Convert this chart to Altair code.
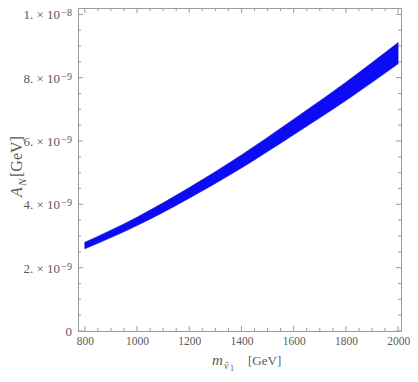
import altair as alt
import pandas as pd

# band data (A_N in units of 1e-9 GeV)
m_vals = [800, 1000, 1200, 1400, 1600, 1800, 2000]
upper_e9 = [2.80, 3.595, 4.53, 5.56, 6.69, 7.855, 9.107]
lower_e9 = [2.594, 3.33, 4.196, 5.149, 6.198, 7.276, 8.436]

x_major = [800, 1000, 1200, 1400, 1600, 1800, 2000]
x_minor = [v for v in range(800, 2001, 50) if v % 200 != 0]
y_major_e9 = [0, 2, 4, 6, 8, 10]
y_minor_e9 = [v / 2 for v in range(0, 21) if v % 4 != 0]
y_label_base = ["0", "2. × 10", "4. × 10", "6. × 10", "8. × 10", "1. × 10"]
y_label_exp = ["", "−9", "−9", "−9", "−9", "−8"]

W, H = 323, 323
FONT = "Liberation Serif"
GREY = "#9a9a9a"
TXT = "#5a5a5a"

band = pd.DataFrame({
    "m": m_vals,
    "hi": [v * 1e-9 for v in upper_e9],
    "lo": [v * 1e-9 for v in lower_e9],
})

xs = alt.Scale(domain=[774, 2011], nice=False, zero=False)
ys = alt.Scale(domain=[0, 1.02e-8], nice=False, zero=False)

xa = alt.Axis(values=x_major, ticks=False, domain=False, grid=False, title=None,
              format="d", labelFont=FONT, labelFontSize=11.5, labelColor=TXT,
              labelPadding=4)

area = alt.Chart(band).mark_area(
    interpolate="monotone", color="#0b0bf5", stroke="#1515c8", strokeWidth=0.6
).encode(
    x=alt.X("m:Q", scale=xs, axis=xa),
    y=alt.Y("hi:Q", scale=ys, axis=None),
    y2="lo:Q",
)

def xticks(vals, length):
    d = pd.DataFrame({"m": vals})
    bot = alt.Chart(d).mark_rule(color=GREY, strokeWidth=1).encode(
        x=alt.X("m:Q", scale=xs, axis=xa), y=alt.value(H), y2=alt.value(H - length))
    top = alt.Chart(d).mark_rule(color=GREY, strokeWidth=1).encode(
        x=alt.X("m:Q", scale=xs, axis=xa), y=alt.value(0), y2=alt.value(length))
    return [bot, top]

def yticks(vals, length):
    d = pd.DataFrame({"hi": [v * 1e-9 for v in vals]})
    lef = alt.Chart(d).mark_rule(color=GREY, strokeWidth=1).encode(
        y=alt.Y("hi:Q", scale=ys, axis=None), x=alt.value(0), x2=alt.value(length))
    rig = alt.Chart(d).mark_rule(color=GREY, strokeWidth=1).encode(
        y=alt.Y("hi:Q", scale=ys, axis=None), x=alt.value(W), x2=alt.value(W - length))
    return [lef, rig]

# y tick labels as text (base + superscript exponent)
ylab = pd.DataFrame({
    "hi": [v * 1e-9 for v in y_major_e9],
    "base": y_label_base,
    "exp": y_label_exp,
})
ylab_zero = ylab[ylab["exp"] == ""]
ylab_sci = ylab[ylab["exp"] != ""]

ylab_layers = [
    alt.Chart(ylab_zero).mark_text(align="right", baseline="middle", font=FONT,
                                   fontSize=13, color=TXT, dy=1).encode(
        y=alt.Y("hi:Q", scale=ys, axis=None), x=alt.value(-6), text="base:N"),
    alt.Chart(ylab_sci).mark_text(align="right", baseline="middle", font=FONT,
                                  fontSize=13, color=TXT, dy=1).encode(
        y=alt.Y("hi:Q", scale=ys, axis=None), x=alt.value(-18), text="base:N"),
    alt.Chart(ylab_sci).mark_text(align="right", baseline="alphabetic", font=FONT,
                                  fontSize=10, color=TXT, dy=2).encode(
        y=alt.Y("hi:Q", scale=ys, axis=None), x=alt.value(-6), text="exp:N"),
]

def txt(s, x, y, size, italic=False, angle=0):
    kw = dict(align="left", baseline="alphabetic", font=FONT, fontSize=size,
              color=TXT, text=s)
    if italic:
        kw["fontStyle"] = "italic"
    if angle:
        kw["angle"] = angle
    return alt.Chart(pd.DataFrame({"a": [0]})).mark_text(**kw).encode(
        x=alt.value(x), y=alt.value(y))

titles = [
    # x title: m_{nu~_1} [GeV]
    txt("m", 134, 357, 15, italic=True),
    txt("ṽ", 146, 361, 10, italic=True),
    txt("1", 152, 363, 8),
    txt("[GeV]", 170, 357, 13),
    # y title: A_N [GeV]
    txt("A", -56, 189, 16, italic=True, angle=270),
    txt("N", -52, 178, 11, italic=True, angle=270),
    txt("[GeV]", -56, 169, 16, angle=270),
]

layers = [area] + xticks(x_major, 5) + xticks(x_minor, 3) + \
    yticks(y_major_e9, 5) + yticks(y_minor_e9, 3) + ylab_layers + titles

chart = alt.layer(*layers).properties(
    width=W, height=H,
    autosize=alt.AutoSizeParams(type="none"),
    padding={"left": 70, "top": 0, "right": 9, "bottom": 43},
).configure_view(stroke=GREY, strokeWidth=1)

chart.save("out.html", embed_options={"renderer": "svg", "actions": False})
